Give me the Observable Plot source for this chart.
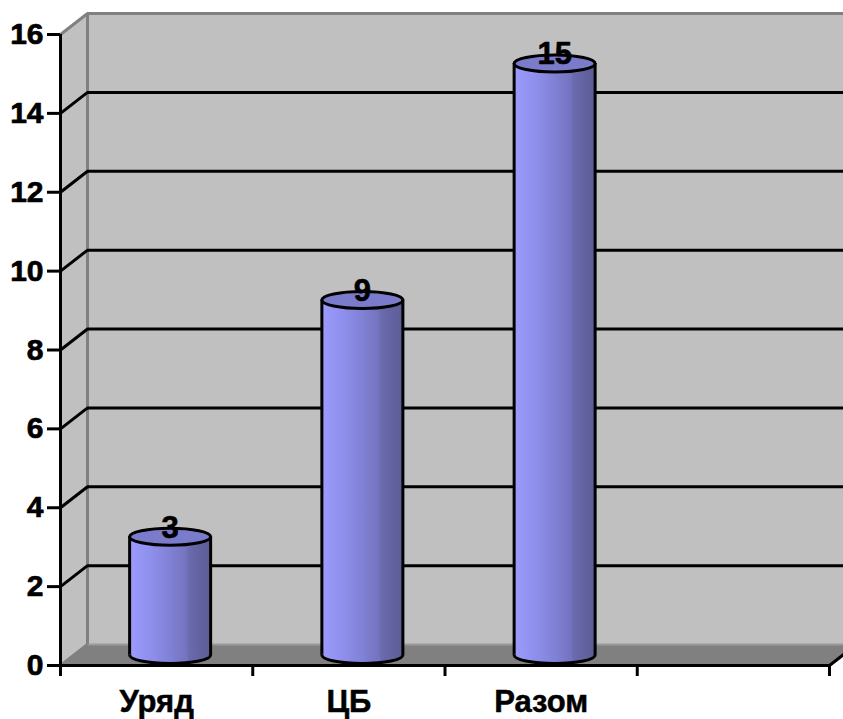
<!DOCTYPE html>
<html>
<head>
<meta charset="utf-8">
<script src="https://cdn.jsdelivr.net/npm/d3@7"></script>
<script src="https://cdn.jsdelivr.net/npm/@observablehq/plot@0.6"></script>
<style>
  html, body { margin: 0; padding: 0; background: #ffffff; }
  #chart { width: 843px; height: 719px; overflow: hidden; }
</style>
</head>
<body>
<div id="chart"></div>
<script>
// ---- data ----
const categories = ["Уряд", "ЦБ", "Разом"];
const values = [3, 9, 15];
const yTicks = [0, 2, 4, 6, 8, 10, 12, 14, 16];
const slotCount = 4; // category slots on the x axis (last one empty)

// ---- layout ----
const W = 843, H = 719;
const mL = 60, mR = 14, mT = 34, mB = 54;
const xUnit = (W - mL - mR) / slotCount;      // px per slot
const yUnit = (H - mT - mB) / 16;             // px per value unit
const DX = 27 / xUnit;                        // depth offset (data units)
const DY = 21 / yUnit;
const HW = 40.5 / xUnit;                      // cylinder half-width (data units)
const yMax = yTicks[yTicks.length - 1];

const ellipse = {
  draw(ctx, size) {
    const rx = Math.sqrt(size / Math.PI), ry = 8.5, k = 0.5523;
    ctx.moveTo(rx, 0);
    ctx.bezierCurveTo(rx, ry * k, rx * k, ry, 0, ry);
    ctx.bezierCurveTo(-rx * k, ry, -rx, ry * k, -rx, 0);
    ctx.bezierCurveTo(-rx, -ry * k, -rx * k, -ry, 0, -ry);
    ctx.bezierCurveTo(rx * k, -ry, rx, -ry * k, rx, 0);
    ctx.closePath();
  }
};

const cx = (d, i) => i + 0.5 + DX / 2;
const font = "'Liberation Sans', Arial, sans-serif";

const svg = Plot.plot({
  width: W, height: H,
  marginLeft: mL, marginRight: mR, marginTop: mT, marginBottom: mB,
  x: {domain: [0, slotCount]},
  y: {domain: [0, yMax]},
  style: {fontFamily: font, background: "white", color: "black"},
  marks: [
    // back wall
    Plot.rect([0], {x1: DX, x2: slotCount + DX + 0.5, y1: DY, y2: yMax + DY, fill: "#c0c0c0"}),
    // side wall
    Plot.areaY([0, DX], {x: d => d, y1: d => d / DX * DY, y2: d => yMax + d / DX * DY, fill: "#c0c0c0"}),
    // floor
    Plot.areaX([0, DY], {y: d => d, x1: d => d / DY * DX, x2: d => slotCount + d / DY * DX, fill: "#808080"}),
    // back wall edges
    Plot.ruleY([yMax], {y: d => d + DY, x1: DX, x2: slotCount + DX + 0.5, stroke: "#808080", strokeWidth: 3}),
    Plot.ruleY([0], {y: d => d + DY, x1: DX, x2: slotCount + DX + 0.5, stroke: "#9a9a9a", strokeWidth: 2}),
    Plot.ruleX([DX], {y1: DY, y2: yMax + DY, stroke: "#808080", strokeWidth: 3}),
    // back gridlines
    Plot.ruleY(yTicks.filter(v => v > 0 && v < yMax), {y: d => d + DY, x1: DX, x2: slotCount + DX + 0.5, stroke: "black", strokeWidth: 3}),
    // side wall gridlines
    Plot.link(yTicks, {x1: 0, y1: d => d, x2: DX, y2: d => d + DY,
      stroke: d => (d === 0 || d === yMax) ? "#808080" : "black", strokeWidth: 3}),
    // cylinders: bottom ellipse, body, edges, top ellipse
    Plot.dot(values, {x: cx, y: DY / 2, r: 40.5, symbol: ellipse, fill: "url(#cyl)", stroke: "black", strokeWidth: 3}),
    Plot.rect(values, {x1: (d, i) => cx(d, i) - HW, x2: (d, i) => cx(d, i) + HW, y1: DY / 2, y2: d => d + DY / 2, fill: "url(#cyl)"}),
    Plot.ruleX(values, {x: (d, i) => cx(d, i) - HW, y1: DY / 2, y2: d => d + DY / 2, stroke: "black", strokeWidth: 3}),
    Plot.ruleX(values, {x: (d, i) => cx(d, i) + HW, y1: DY / 2, y2: d => d + DY / 2, stroke: "black", strokeWidth: 3}),
    Plot.dot(values, {x: cx, y: d => d + DY / 2, r: 40.5, symbol: ellipse, fill: "#7b7bcc", stroke: "black", strokeWidth: 3}),
    // value labels
    Plot.text(values, {x: cx, y: d => d + DY / 2, dy: -9, text: d => String(d),
      fontSize: 31, fontWeight: "bold", fill: "black", stroke: "black", strokeWidth: 0.6}),
    // front axes lines
    Plot.ruleX([0], {y1: 0, y2: yMax, stroke: "black", strokeWidth: 3}),
    Plot.ruleY([0], {x1: 0, x2: slotCount, stroke: "black", strokeWidth: 3}),
    Plot.link([0], {x1: slotCount, y1: 0, x2: slotCount + DX, y2: DY, stroke: "black", strokeWidth: 3}),
    // axes
    Plot.axisY(yTicks, {tickSize: 13, tickPadding: 4, strokeWidth: 3, fontSize: 30, fontWeight: "bold", label: null,
      fill: "black", stroke: "black", textStroke: "black", textStrokeWidth: 0.7}),
    Plot.axisX(d3.range(slotCount + 1), {tickSize: 11, tickFormat: () => "", strokeWidth: 3, label: null, stroke: "black"}),
    Plot.text(categories, {x: (d, i) => i + 0.5, y: 0, dy: 37, text: d => d,
      fontSize: 31, fontWeight: "bold", fill: "black", stroke: "black", strokeWidth: 0.5})
  ]
});

const defs = d3.select(svg).insert("defs", ":first-child");
const g = defs.append("linearGradient").attr("id", "cyl").attr("x1", 0).attr("x2", 1).attr("y1", 0).attr("y2", 0);
[[0, "#9c9cff"], [0.35, "#8a8ae6"], [0.7, "#7474c0"], [0.74, "#6a6aad"], [1, "#5c5c96"]]
  .forEach(([o, c]) => g.append("stop").attr("offset", o).attr("stop-color", c));

document.getElementById("chart").appendChild(svg);
</script>
</body>
</html>
